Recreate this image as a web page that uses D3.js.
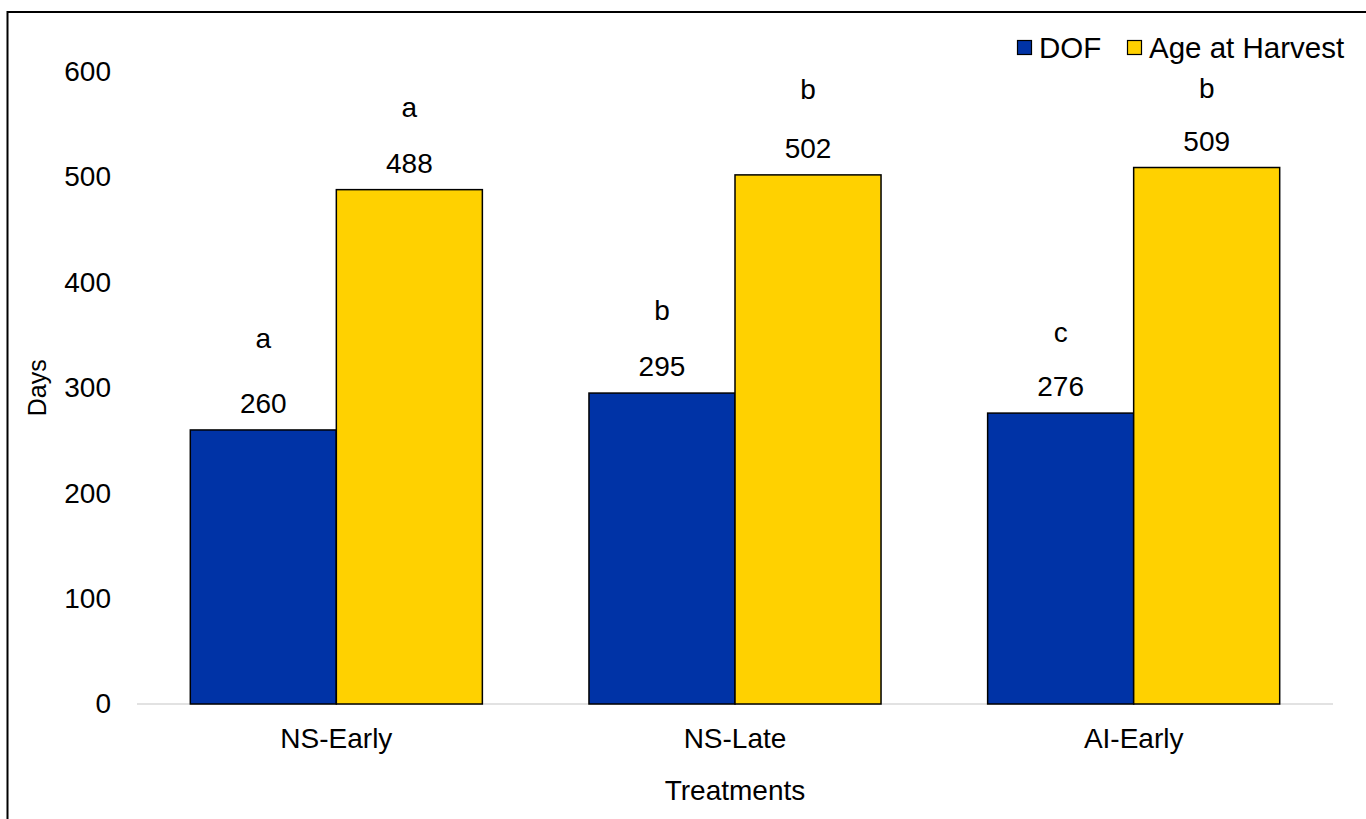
<!DOCTYPE html>
<html>
<head>
<meta charset="utf-8">
<script src="https://cdn.jsdelivr.net/npm/d3@7"></script>
<style>
  html, body { margin: 0; padding: 0; background: #fff; }
  svg { display: block; font-family: "Liberation Sans", Arial, sans-serif; }
</style>
</head>
<body>
<svg id="chart" width="1366" height="819"></svg>
<script>
// Treatments and the two measured series (days)
const categories = ["NS-Early", "NS-Late", "AI-Early"];
const seriesNames = ["DOF", "Age at Harvest"];
const dofValues = [260, 295, 276];
const ageValues = [488, 502, 509];
// Significance letters shown above each bar
const dofLetters = ["a", "b", "c"];
const ageLetters = ["a", "b", "b"];
const yTicks = [0, 100, 200, 300, 400, 500, 600];

const colors = { "DOF": "#0033A6", "Age at Harvest": "#FFD100" };

const svg = d3.select("#chart");
const W = 1366, H = 819;
const plot = { left: 137, right: 1333, top: 71.6, bottom: 704 };
const fs = 28;
// pixel gap between each bar top and its significance letter, per treatment [DOF, Age]
const letterGap = [[82, 73], [73, 76], [71, 70]];

// outer frame
svg.append("rect")
  .attr("x", 7.5).attr("y", 12)
  .attr("width", W + 20).attr("height", H + 20)
  .attr("fill", "none").attr("stroke", "#000").attr("stroke-width", 2);

const x0 = d3.scaleBand().domain(categories).range([plot.left, plot.right]).padding(0);
const x1 = d3.scaleBand().domain(seriesNames).range([0, x0.bandwidth()])
  .paddingInner(0).paddingOuter(0.365);
const y = d3.scaleLinear().domain([0, 600]).range([plot.bottom, plot.top]);

const rows = categories.map((c, i) => ({
  cat: c,
  items: [
    { s: "DOF", v: dofValues[i], letter: dofLetters[i], gap: letterGap[i][0] },
    { s: "Age at Harvest", v: ageValues[i], letter: ageLetters[i], gap: letterGap[i][1] }
  ]
}));

// baseline
svg.append("line")
  .attr("x1", plot.left).attr("x2", plot.right)
  .attr("y1", y(0)).attr("y2", y(0))
  .attr("stroke", "#d9d9d9").attr("stroke-width", 1.5);

// y axis labels (no axis line)
const yAxis = svg.append("g")
  .attr("transform", `translate(${plot.left},0)`)
  .call(d3.axisLeft(y).tickValues(yTicks).tickSize(0).tickPadding(26));
yAxis.select(".domain").remove();
yAxis.selectAll("text").attr("font-size", fs).attr("fill", "#000")
  .style("font-family", "'Liberation Sans', Arial, sans-serif");

// x axis labels
const xAxis = svg.append("g")
  .attr("transform", `translate(0,${plot.bottom})`)
  .call(d3.axisBottom(x0).tickSize(0).tickPadding(24));
xAxis.select(".domain").remove();
xAxis.selectAll("text").attr("font-size", fs).attr("fill", "#000")
  .style("font-family", "'Liberation Sans', Arial, sans-serif");

// bars
const groups = svg.selectAll("g.group").data(rows).join("g")
  .attr("class", "group")
  .attr("transform", d => `translate(${x0(d.cat)},0)`);

groups.selectAll("rect").data(d => d.items).join("rect")
  .attr("x", d => x1(d.s))
  .attr("y", d => y(d.v))
  .attr("width", x1.bandwidth())
  .attr("height", d => y(0) - y(d.v))
  .attr("fill", d => colors[d.s])
  .attr("stroke", "#000").attr("stroke-width", 1.5);

// value labels
groups.selectAll("text.val").data(d => d.items).join("text")
  .attr("class", "val")
  .attr("x", d => x1(d.s) + x1.bandwidth() / 2)
  .attr("y", d => y(d.v) - 17)
  .attr("text-anchor", "middle")
  .attr("font-size", fs).attr("fill", "#000")
  .text(d => d.v);

// significance letters
groups.selectAll("text.sig").data(d => d.items).join("text")
  .attr("class", "sig")
  .attr("x", d => x1(d.s) + x1.bandwidth() / 2)
  .attr("y", d => y(d.v) - d.gap)
  .attr("text-anchor", "middle")
  .attr("font-size", fs).attr("fill", "#000")
  .text(d => d.letter);

// axis titles
svg.append("text")
  .attr("x", (plot.left + plot.right) / 2).attr("y", 800)
  .attr("text-anchor", "middle").attr("font-size", fs).attr("fill", "#000")
  .text("Treatments");
svg.append("text")
  .attr("transform", `translate(46,${(plot.top + plot.bottom) / 2}) rotate(-90)`)
  .attr("text-anchor", "middle").attr("font-size", 25).attr("fill", "#000")
  .text("Days");

// legend
const legend = svg.append("g").attr("transform", "translate(1017,40)");
const legendX = [0, 110];
seriesNames.forEach((s, i) => {
  const g = legend.append("g").attr("transform", `translate(${legendX[i]},0)`);
  g.append("rect").attr("x", 0.5).attr("y", 0.5).attr("width", 14).attr("height", 14)
    .attr("fill", colors[s]).attr("stroke", "#000").attr("stroke-width", 1.2);
  g.append("text").attr("x", 22).attr("y", 17.5).attr("font-size", 29.5).attr("fill", "#000").text(s);
});
</script>
</body>
</html>
